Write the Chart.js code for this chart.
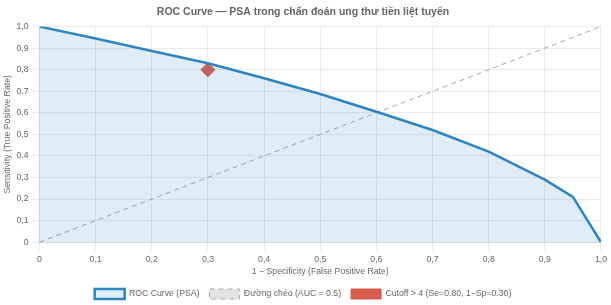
<!DOCTYPE html>
<html>
<head>
<meta charset="utf-8">
<script src="https://cdn.jsdelivr.net/npm/chart.js@4"></script>
<style>
  html, body { margin: 0; padding: 0; background: #fff; }
  #wrap { width: 611px; height: 305px; }
</style>
</head>
<body>
<div id="wrap"><canvas id="roc"></canvas></div>
<script>
'use strict';

/* ── Data ── */
const FPR = [0, 0.1, 0.2, 0.3, 0.4, 0.5, 0.6, 0.7, 0.8, 0.9, 0.95, 1.0];
const TPR = [1.0, 0.945, 0.887, 0.83, 0.76, 0.687, 0.605, 0.52, 0.42, 0.29, 0.21, 0];
const DIAG_X = [0, 1];
const DIAG_Y = [0, 1];
const CUTOFF_X = [0.3];
const CUTOFF_Y = [0.8];
const LABELS = ['ROC Curve (PSA)', 'Đường chéo (AUC = 0.5)', 'Cutoff > 4 (Se=0.80, 1−Sp=0.30)'];

const toXY = (xs, ys) => xs.map((x, i) => ({ x, y: ys[i] }));
const fmt = v => (v === 0 ? '0' : Number(v).toFixed(1).replace('.', ','));

Chart.defaults.font.family = "Arial, 'Liberation Sans', sans-serif";
Chart.defaults.color = '#666';
const SMALL = 8.7;

new Chart(document.getElementById('roc').getContext('2d'), {
    type: 'scatter',
    data: {
        datasets: [
            { label: LABELS[0], data: toXY(FPR, TPR), showLine: true, borderColor: '#2e86c1', backgroundColor: 'rgba(46,134,193,0.15)', fill: 'origin', borderWidth: 2.5, pointRadius: 0, tension: 0 },
            { label: LABELS[1], data: toXY(DIAG_X, DIAG_Y), showLine: true, borderColor: '#aaa', backgroundColor: 'rgba(200,200,200,0.5)', borderDash: [5, 4], borderWidth: 1, pointRadius: 0, fill: false },
            { label: LABELS[2], data: toXY(CUTOFF_X, CUTOFF_Y), borderColor: 'rgba(215,75,60,0.9)', backgroundColor: 'rgba(215,75,60,0.9)', pointStyle: 'rectRot', pointRadius: 7, borderWidth: 1 },
        ],
    },
    options: {
        responsive: true,
        maintainAspectRatio: false,
        animation: false,
        layout: { padding: { right: 6, left: 1, bottom: -4 } },
        plugins: {
            title: { display: true, text: 'ROC Curve — PSA trong chẩn đoán ung thư tiền liệt tuyến', font: { size: 10.5, weight: 'bold' }, padding: { top: 6, bottom: 8 } },
            legend: { position: 'bottom', labels: { font: { size: SMALL }, boxWidth: 30, boxHeight: 10, padding: 10 } },
        },
        scales: {
            x: {
                type: 'linear', min: 0, max: 1,
                ticks: { stepSize: 0.1, callback: fmt, font: { size: SMALL }, padding: 4 },
                title: { display: true, text: '1 − Specificity (False Positive Rate)', font: { size: SMALL }, padding: { top: -2, bottom: 2 } },
                grid: { color: 'rgba(0,0,0,0.08)' },
            },
            y: {
                min: 0, max: 1,
                ticks: { stepSize: 0.1, callback: fmt, font: { size: SMALL }, padding: 3 },
                title: { display: true, text: 'Sensitivity (True Positive Rate)', font: { size: SMALL }, padding: { top: 1, bottom: 1 } },
                grid: { color: 'rgba(0,0,0,0.08)' },
            },
        },
    },
});
</script>
</body>
</html>
